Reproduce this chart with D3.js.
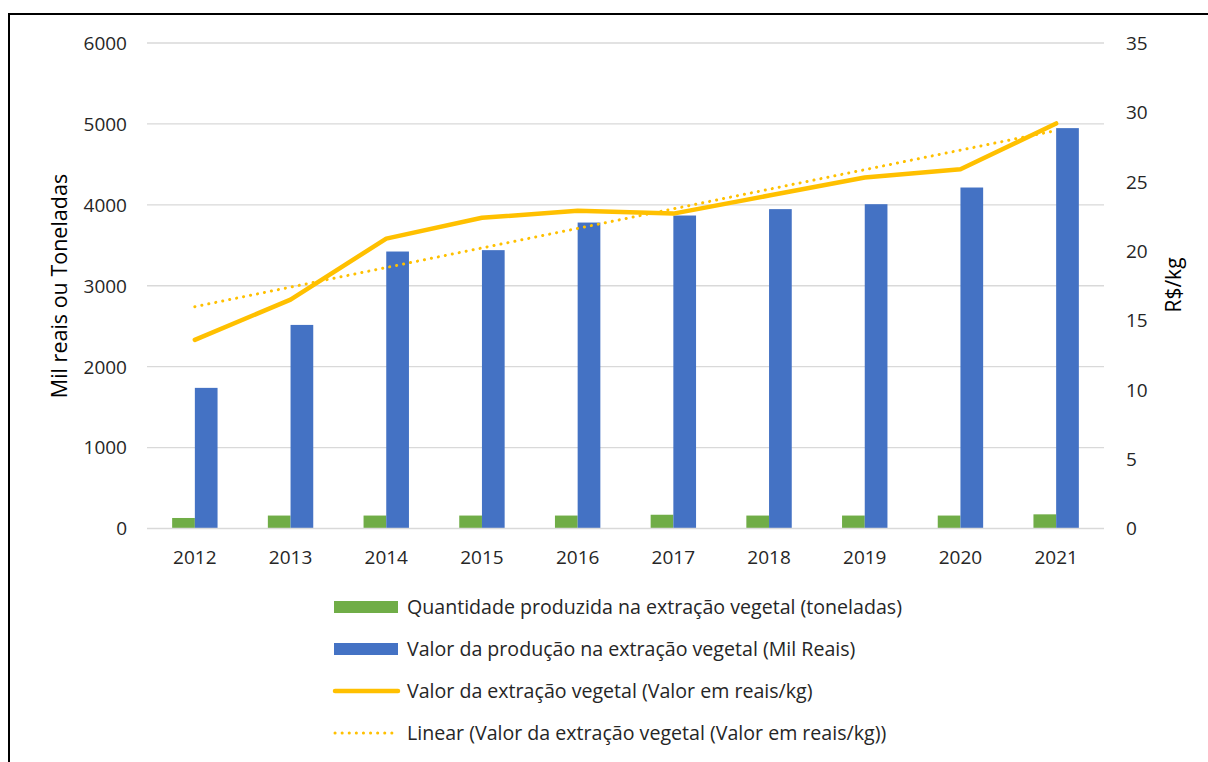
<!DOCTYPE html>
<html>
<head>
<meta charset="utf-8">
<script src="https://cdn.jsdelivr.net/npm/d3@7"></script>
<style>
  body { margin: 0; background: #fff; }
  svg text { font-family: "Open Sans", sans-serif; fill: #262626; }
</style>
</head>
<body>
<div id="chart"></div>
<script>
// data
const years = ["2012", "2013", "2014", "2015", "2016", "2017", "2018", "2019", "2020", "2021"];
const quantidade = [130, 160, 160, 160, 160, 170, 160, 160, 160, 175];        // toneladas
const valorProducao = [1738, 2516, 3423, 3440, 3781, 3868, 3947, 4008, 4214, 4948]; // mil reais
const valorKg = [13.6, 16.5, 20.9, 22.4, 22.9, 22.7, 24.0, 25.3, 25.9, 29.2];  // R$/kg
const leftTicks = [0, 1000, 2000, 3000, 4000, 5000, 6000];
const rightTicks = [0, 5, 10, 15, 20, 25, 30, 35];

const legendLabels = [
  "Quantidade produzida na extração vegetal (toneladas)",
  "Valor da produção na extração vegetal (Mil Reais)",
  "Valor da extração vegetal (Valor em reais/kg)",
  "Linear (Valor da extração vegetal (Valor em reais/kg))"
];

const width = 1208, height = 762;
const plot = { left: 147, right: 1104, top: 43, bottom: 528.5 };

const svg = d3.select("#chart").append("svg")
  .attr("width", width)
  .attr("height", height);

// outer frame
svg.append("rect")
  .attr("x", 9).attr("y", 14)
  .attr("width", 1400).attr("height", 900)
  .attr("fill", "none")
  .attr("stroke", "#000")
  .attr("stroke-width", 2);

const x = d3.scaleBand().domain(years).range([plot.left, plot.right]);
const yLeft = d3.scaleLinear().domain([0, 6000]).range([plot.bottom, plot.top]);
const yRight = d3.scaleLinear().domain([0, 35]).range([plot.bottom, plot.top]);

// gridlines
svg.append("g").selectAll("line")
  .data(leftTicks.filter(d => d > 0))
  .join("line")
  .attr("x1", plot.left).attr("x2", plot.right)
  .attr("y1", d => yLeft(d)).attr("y2", d => yLeft(d))
  .attr("stroke", "#d9d9d9").attr("stroke-width", 1.3);

// left axis labels
svg.append("g").selectAll("text")
  .data(leftTicks)
  .join("text")
  .attr("x", 127)
  .attr("y", d => yLeft(d))
  .attr("dy", "0.36em")
  .attr("text-anchor", "end")
  .attr("font-size", 19)
  .text(d => d);

// right axis labels
svg.append("g").selectAll("text")
  .data(rightTicks)
  .join("text")
  .attr("x", 1126)
  .attr("y", d => yRight(d))
  .attr("dy", "0.36em")
  .attr("text-anchor", "start")
  .attr("font-size", 19)
  .text(d => d);

// bars
const barW = 22.7;
svg.append("g").selectAll("rect")
  .data(years)
  .join("rect")
  .attr("x", d => x(d) + x.bandwidth() / 2 - barW)
  .attr("y", (d, i) => yLeft(quantidade[i]))
  .attr("width", barW)
  .attr("height", (d, i) => plot.bottom - yLeft(quantidade[i]))
  .attr("fill", "#70ad47");

svg.append("g").selectAll("rect")
  .data(years)
  .join("rect")
  .attr("x", d => x(d) + x.bandwidth() / 2)
  .attr("y", (d, i) => yLeft(valorProducao[i]))
  .attr("width", barW)
  .attr("height", (d, i) => plot.bottom - yLeft(valorProducao[i]))
  .attr("fill", "#4472c4");

// category axis line
svg.append("line")
  .attr("x1", plot.left).attr("x2", plot.right)
  .attr("y1", plot.bottom).attr("y2", plot.bottom)
  .attr("stroke", "#d9d9d9").attr("stroke-width", 1.3);

svg.append("g").selectAll("text")
  .data(years)
  .join("text")
  .attr("x", d => x(d) + x.bandwidth() / 2)
  .attr("y", 557)
  .attr("dy", "0.36em")
  .attr("text-anchor", "middle")
  .attr("font-size", 19)
  .text(d => d);

// linear trendline (least squares over the series)
const n = valorKg.length;
const mx = (n + 1) / 2;
const my = d3.mean(valorKg);
const slope = d3.sum(valorKg, (v, i) => (i + 1 - mx) * (v - my)) / d3.sum(valorKg, (v, i) => (i + 1 - mx) ** 2);
const trend = valorKg.map((v, i) => my + slope * (i + 1 - mx));

const lineGen = d3.line()
  .x((d, i) => x(years[i]) + x.bandwidth() / 2)
  .y(d => yRight(d));

svg.append("path")
  .datum(trend)
  .attr("d", lineGen)
  .attr("fill", "none")
  .attr("stroke", "#ffc000")
  .attr("stroke-width", 3)
  .attr("stroke-linecap", "round")
  .attr("stroke-dasharray", "0.1 7");

svg.append("path")
  .datum(valorKg)
  .attr("d", lineGen)
  .attr("fill", "none")
  .attr("stroke", "#ffc000")
  .attr("stroke-width", 4.5)
  .attr("stroke-linecap", "round")
  .attr("stroke-linejoin", "round");

// axis titles
svg.append("text")
  .attr("transform", "translate(67,286) rotate(-90)")
  .attr("text-anchor", "middle")
  .attr("font-size", 21.5)
  .style("fill", "#000")
  .text("Mil reais ou Toneladas");

svg.append("text")
  .attr("transform", "translate(1181,285) rotate(-90)")
  .attr("text-anchor", "middle")
  .attr("font-size", 21)
  .style("fill", "#000")
  .text("R$/kg");

// legend
const legend = svg.append("g");
const rowY = [607, 649, 691, 733];
legendLabels.forEach((label, i) => {
  const g = legend.append("g").attr("transform", `translate(0,${rowY[i]})`);
  if (i < 2) {
    g.append("rect")
      .attr("x", 334).attr("y", -6)
      .attr("width", 64).attr("height", 12)
      .attr("fill", i === 0 ? "#70ad47" : "#4472c4");
  } else {
    g.append("line")
      .attr("x1", 335).attr("x2", 398)
      .attr("y1", 0).attr("y2", 0)
      .attr("stroke", "#ffc000")
      .attr("stroke-width", i === 2 ? 4.5 : 3)
      .attr("stroke-linecap", "round")
      .attr("stroke-dasharray", i === 2 ? null : "0.1 7");
  }
  g.append("text")
    .attr("x", 407)
    .attr("y", 0)
    .attr("dy", "0.36em")
    .attr("font-size", 19.6)
    .text(label);
});
</script>
</body>
</html>
